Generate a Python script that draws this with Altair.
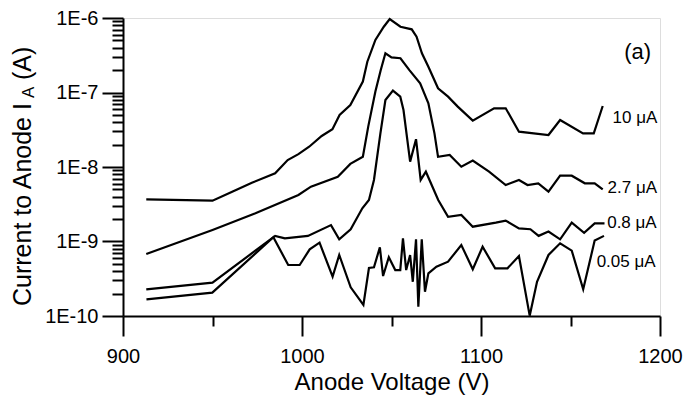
import altair as alt
import pandas as pd

# ---- data (anode voltage in V, anode current in A) ----
volts_10 = [913, 950, 961, 972, 985, 992, 998, 1004, 1011, 1017, 1021, 1027, 1034, 1036.5,
            1041, 1045.7, 1049, 1055, 1061.3, 1064, 1067, 1070.6, 1076, 1081.6, 1087, 1095.4,
            1107.3, 1113.8, 1121.2, 1137.7, 1144.2, 1157, 1163, 1168]
amps_10 = [3.68e-9, 3.53e-9, 4.67e-9, 6.15e-9, 8.22e-9, 1.24e-8, 1.49e-8, 1.87e-8, 2.61e-8,
           3.21e-8, 4.99e-8, 6.79e-8, 1.40e-7, 2.59e-7, 5.07e-7, 7.64e-7, 9.70e-7, 7.64e-7,
           7.05e-7, 5.62e-7, 3.36e-7, 2.22e-7, 1.14e-7, 8.79e-8, 6.46e-8, 4.19e-8, 6.14e-8,
           6.14e-8, 2.98e-8, 2.69e-8, 4.28e-8, 2.83e-8, 2.83e-8, 6.59e-8]

volts_27 = [913, 950, 974, 998, 1005, 1020, 1027, 1034, 1037, 1041, 1044, 1046.6, 1050, 1055,
            1060, 1066, 1070.6, 1074, 1076, 1082.5, 1089, 1095.4, 1104.5, 1113.8, 1121.2, 1126,
            1132, 1137.7, 1144.2, 1150.7, 1158, 1163.5, 1168]
amps_27 = [6.79e-10, 1.43e-9, 2.39e-9, 4.21e-9, 5.45e-9, 7.41e-9, 1.10e-8, 1.37e-8, 3.48e-8,
           1.03e-7, 2.00e-7, 3.36e-7, 2.96e-7, 2.88e-7, 2.00e-7, 1.33e-7, 7.16e-8, 2.83e-8,
           1.37e-8, 1.45e-8, 1.01e-8, 1.22e-8, 8.65e-9, 5.73e-9, 6.70e-9, 5.73e-9, 6.04e-9,
           4.67e-9, 7.64e-9, 7.64e-9, 6.04e-9, 6.04e-9, 5.01e-9]

volts_08 = [913, 950, 985, 990.4, 1003.3, 1016.2, 1020.8, 1027.2, 1033.7, 1037.4, 1040.2,
            1043.8, 1046.6, 1050.8, 1054.9, 1056.7, 1060.4, 1063.7, 1066.3, 1069.2, 1076.1,
            1081.6, 1089, 1095.4, 1108.3, 1113.8, 1121.2, 1127.6, 1132.2, 1137.7, 1144.2,
            1150.7, 1157.6, 1163.5, 1169]
amps_08 = [2.28e-10, 2.80e-10, 1.19e-9, 1.10e-9, 1.19e-9, 1.66e-9, 1.07e-9, 1.46e-9, 2.79e-9,
           3.61e-9, 6.70e-9, 2.83e-8, 7.94e-8, 1.06e-7, 8.79e-8, 5.82e-8, 1.18e-8, 2.36e-8,
           6.70e-9, 8.65e-9, 3.61e-9, 2.15e-9, 2.27e-9, 1.58e-9, 1.79e-9, 1.91e-9, 1.50e-9,
           1.46e-9, 1.19e-9, 1.36e-9, 1.07e-9, 1.79e-9, 1.31e-9, 1.75e-9, 1.75e-9]

volts_005 = [913.1, 949.9, 984.0, 992.3, 998.7, 1004.3, 1009.8, 1017.1, 1020.8, 1027.2, 1034.3,
             1037.4, 1040.2, 1043.5, 1045.3, 1048.5, 1052.1, 1054.9, 1056.4, 1058.2, 1060.4,
             1061.9, 1063.7, 1065.0, 1066.9, 1068.7, 1070.6, 1075.1, 1081.6, 1089.0, 1095.4,
             1100.9, 1107.9, 1114.8, 1121.2, 1127.2, 1131.3, 1137.7, 1144.2, 1150.7, 1157.1,
             1163.5, 1168.7]
amps_005 = [1.67e-10, 2.06e-10, 1.14e-9, 4.84e-10, 4.84e-10, 7.85e-10, 9.64e-10, 3.37e-10,
            6.59e-10, 2.43e-10, 1.41e-10, 4.41e-10, 4.51e-10, 8.36e-10, 3.44e-10, 6.14e-10,
            4.14e-10, 4.14e-10, 1.10e-9, 4.14e-10, 6.59e-10, 2.88e-10, 1.07e-9, 1.33e-10,
            1.07e-9, 2.12e-10, 3.74e-10, 4.59e-10, 5.36e-10, 8.97e-10, 4.24e-10, 8.51e-10,
            4.37e-10, 4.37e-10, 6.38e-10, 1.01e-10, 2.88e-10, 6.59e-10, 9.46e-10, 7.53e-10,
            2.28e-10, 1.03e-9, 1.19e-9]

series_names = ["10 μA", "2.7 μA", "0.8 μA", "0.05 μA"]

# series label anchors (voltage, current)
label_volts = [1173.5, 1170.7, 1170.5, 1164.6]
label_amps = [4.55e-8, 5.2e-9, 1.77e-9, 5.3e-10]

panel_tag = "(a)"
panel_volt = [1180]
panel_amp = [3.5e-7]

x_ticks = [900, 950, 1000, 1050, 1100, 1150, 1200]
y_ticks = [k * 10.0 ** e for e in range(-10, -6) for k in range(1, 10)] + [1e-6]

# ---- build table ----
rows = []
for name, vs, As in zip(series_names,
                        [volts_10, volts_27, volts_08, volts_005],
                        [amps_10, amps_27, amps_08, amps_005]):
    for v, a in zip(vs, As):
        rows.append({"series": name, "V": v, "I": a})
df = pd.DataFrame(rows)

lab_df = pd.DataFrame({"text": series_names, "V": label_volts, "I": label_amps})
tag_df = pd.DataFrame({"text": [panel_tag], "V": panel_volt, "I": panel_amp})

FONT = "Liberation Sans"

x_scale = alt.Scale(domain=[900, 1200], nice=False, zero=False)
y_scale = alt.Scale(type="log", domain=[1e-10, 1e-6], nice=False)

is_decade = "abs(log(datum.value)/LN10 - round(log(datum.value)/LN10)) < 0.001"

x_axis = alt.Axis(
    values=x_ticks,
    labelExpr="datum.value % 100 == 0 ? format(datum.value, 'd') : ''",
    tickSize={"condition": {"test": "datum.value % 100 == 0", "value": 20}, "value": 10},
    tickWidth=2, tickColor="black", domainWidth=2, domainColor="black",
    labelFont=FONT, labelFontSize=20, labelColor="black", labelPadding=10,
    labelFlush=False, labelOverlap=False, labelBound=False, grid=False,
    title="Anode Voltage (V)", titleFont=FONT, titleFontSize=24, titleFontWeight="normal",
    titleColor="black", titlePadding=4,
)
y_axis = alt.Axis(
    values=y_ticks,
    labelExpr=is_decade + " ? '1E' + round(log(datum.value)/LN10) : ''",
    tickSize={"condition": {"test": is_decade, "value": 21}, "value": 11},
    tickWidth=2, tickColor="black", domainWidth=2, domainColor="black",
    labelFont=FONT, labelFontSize=20, labelColor="black", labelPadding=4,
    labelOverlap=False, labelBound=False, grid=False, title=None,
)

lines = alt.Chart(df).mark_line(color="black", strokeWidth=2.2).encode(
    x=alt.X("V:Q", scale=x_scale, axis=x_axis),
    y=alt.Y("I:Q", scale=y_scale, axis=y_axis),
    detail="series:N",
)

labels = alt.Chart(lab_df).mark_text(
    align="left", baseline="middle", font=FONT, fontSize=17, color="black"
).encode(x=alt.X("V:Q", scale=x_scale), y=alt.Y("I:Q", scale=y_scale), text="text:N")

tag = alt.Chart(tag_df).mark_text(
    align="left", baseline="middle", font=FONT, fontSize=22, color="black"
).encode(x=alt.X("V:Q", scale=x_scale), y=alt.Y("I:Q", scale=y_scale), text="text:N")

# y-axis title with subscript, composed of rotated text pieces
def ytitle_piece(txt, x, y, size):
    return alt.Chart(pd.DataFrame({"t": [txt]})).mark_text(
        align="left", baseline="middle", angle=270, font=FONT, fontSize=size, color="black"
    ).encode(text="t:N", x=alt.value(x), y=alt.value(y))

yt1 = ytitle_piece("Current to Anode  I", -100, 288, 25)
yt2 = ytitle_piece("A", -94, 80, 17)
yt3 = ytitle_piece("(A)", -100, 62, 25)

chart = alt.layer(lines, labels, tag, yt1, yt2, yt3).properties(
    width=537, height=298,
    autosize=alt.AutoSizeParams(type="none"),
    padding={"left": 115, "top": 10, "right": 23, "bottom": 80},
).configure_view(stroke=None).configure(background="white")

chart.save("out.html", embed_options={"renderer": "svg", "actions": False})
